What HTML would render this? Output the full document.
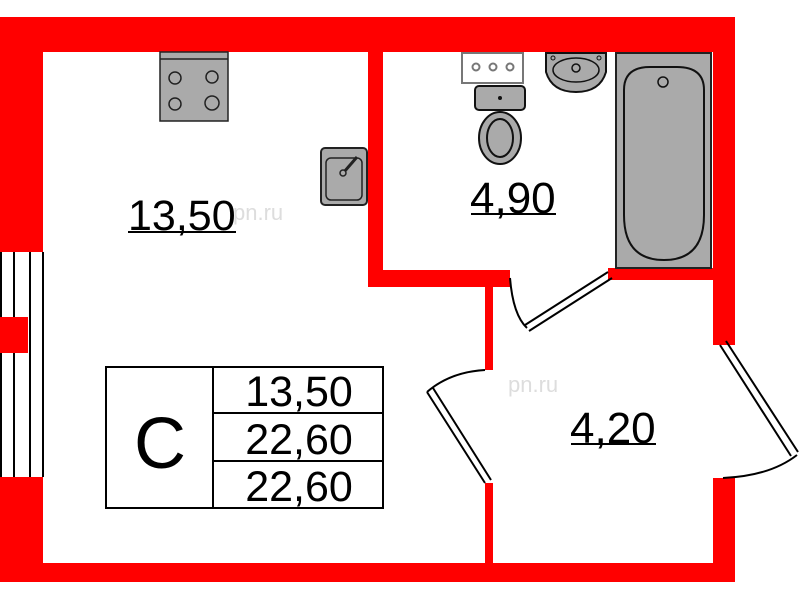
<!DOCTYPE html>
<html><head><meta charset="utf-8"><style>
html,body{margin:0;padding:0;background:#fff;width:800px;height:600px;overflow:hidden}
svg{display:block}
text{font-family:"Liberation Sans",Arial,sans-serif}
</style></head><body>
<svg width="800" height="600" viewBox="0 0 800 600" xmlns="http://www.w3.org/2000/svg">
<rect width="800" height="600" fill="#fff"/>
<g fill="#ff0000">
<rect x="0" y="17" width="735" height="35"/>
<rect x="0" y="17" width="43" height="235"/>
<rect x="0" y="477" width="43" height="105"/>
<rect x="0" y="563" width="735" height="19"/>
<rect x="713" y="17" width="22" height="328"/>
<rect x="713" y="478" width="22" height="104"/>
<rect x="368" y="52" width="15" height="235"/>
<rect x="368" y="270" width="142" height="17"/>
<rect x="485" y="270" width="8" height="100"/>
<rect x="485" y="483" width="8" height="80"/>
<rect x="608" y="268" width="127" height="12"/>
</g>
<g stroke="#000" stroke-width="2">
<line x1="1" y1="252" x2="1" y2="477"/>
<line x1="14" y1="252" x2="14" y2="477"/>
<line x1="30" y1="252" x2="30" y2="477"/>
<line x1="43" y1="252" x2="43" y2="477"/>
</g>
<rect x="0" y="317" width="28" height="36" fill="#ff0000"/>
<g fill="none" stroke="#000" stroke-width="2">
<path d="M608 272 L525 325 M612 278 L529 331"/>
<path d="M510 278 Q513 315 527 328"/>
<path d="M427 392 L485 483 M433 388 L491 480"/>
<path d="M427 392 Q450 372 485 370"/>
<path d="M720 345 L791 456 M726 341 L798 452"/>
<path d="M797 455 Q770 476 723 478"/>
</g>
<rect x="160" y="52" width="68" height="69" fill="#aaa" stroke="#222" stroke-width="1.5"/>
<line x1="160" y1="59" x2="228" y2="59" stroke="#222" stroke-width="1.5"/>
<g fill="none" stroke="#222" stroke-width="1.5">
<circle cx="175" cy="78" r="6"/><circle cx="212" cy="77" r="6"/>
<circle cx="175" cy="104" r="6"/><circle cx="212" cy="103" r="7"/>
</g>
<rect x="321" y="148" width="46" height="57" rx="4" fill="#aaa" stroke="#222" stroke-width="2"/>
<rect x="326" y="158" width="36" height="42" rx="5" fill="none" stroke="#222" stroke-width="1.5"/>
<line x1="344" y1="172" x2="357" y2="157" stroke="#222" stroke-width="3"/>
<circle cx="343" cy="173" r="3" fill="#aaa" stroke="#222" stroke-width="1.5"/>
<rect x="462" y="53" width="61" height="30" fill="#fff" stroke="#777" stroke-width="2"/>
<g fill="none" stroke="#777" stroke-width="2"><circle cx="476" cy="67" r="3.5"/><circle cx="493" cy="67" r="3.5"/><circle cx="510" cy="67" r="3.5"/></g>
<rect x="475" y="86" width="50" height="24" rx="4" fill="#aaa" stroke="#111" stroke-width="2"/>
<circle cx="500" cy="98" r="2" fill="#111"/>
<ellipse cx="500" cy="138" rx="21" ry="26" fill="#aaa" stroke="#111" stroke-width="2"/>
<ellipse cx="500" cy="138" rx="13" ry="19" fill="none" stroke="#111" stroke-width="2"/>
<path d="M546 53 L606 53 L606 72 Q600 92 576 92 Q552 92 546 72 Z" fill="#aaa" stroke="#111" stroke-width="2"/>
<ellipse cx="576" cy="70" rx="23" ry="12" fill="none" stroke="#111" stroke-width="1.5"/>
<circle cx="576" cy="68" r="4" fill="none" stroke="#111" stroke-width="1.5"/>
<circle cx="553" cy="58" r="2" fill="none" stroke="#111"/><circle cx="599" cy="58" r="2" fill="none" stroke="#111"/>
<rect x="616" y="53" width="95" height="215" fill="#aaa" stroke="#222" stroke-width="2"/>
<path d="M624 90 Q624 67 650 67 L677 67 Q704 67 704 90 L704 215 Q704 260 664 260 Q624 260 624 215 Z" fill="none" stroke="#111" stroke-width="2"/>
<circle cx="663" cy="82" r="5" fill="none" stroke="#111" stroke-width="1.5"/>
<text x="128" y="230" font-size="43" fill="#000">13,50</text>
<line x1="128" y1="232" x2="236" y2="232" stroke="#000" stroke-width="2"/>
<text x="470" y="213" font-size="44" fill="#000">4,90</text>
<line x1="471" y1="214" x2="556" y2="214" stroke="#000" stroke-width="2"/>
<text x="570" y="443" font-size="44" fill="#000">4,20</text>
<line x1="571" y1="444" x2="656" y2="444" stroke="#000" stroke-width="2"/>
<text x="233" y="220" font-size="22" fill="#ddd">pn.ru</text>
<text x="508" y="392" font-size="22" fill="#ddd">pn.ru</text>
<g fill="none" stroke="#000" stroke-width="2">
<rect x="106" y="367" width="277" height="141"/>
<line x1="213" y1="367" x2="213" y2="508"/>
<line x1="213" y1="413" x2="383" y2="413"/>
<line x1="213" y1="461" x2="383" y2="461"/>
</g>
<text x="160" y="468" font-size="72" text-anchor="middle" fill="#000">C</text>
<text x="299" y="406" font-size="43" text-anchor="middle" fill="#000">13,50</text>
<text x="299" y="454" font-size="43" text-anchor="middle" fill="#000">22,60</text>
<text x="299" y="501" font-size="43" text-anchor="middle" fill="#000">22,60</text>
</svg>
</body></html>
